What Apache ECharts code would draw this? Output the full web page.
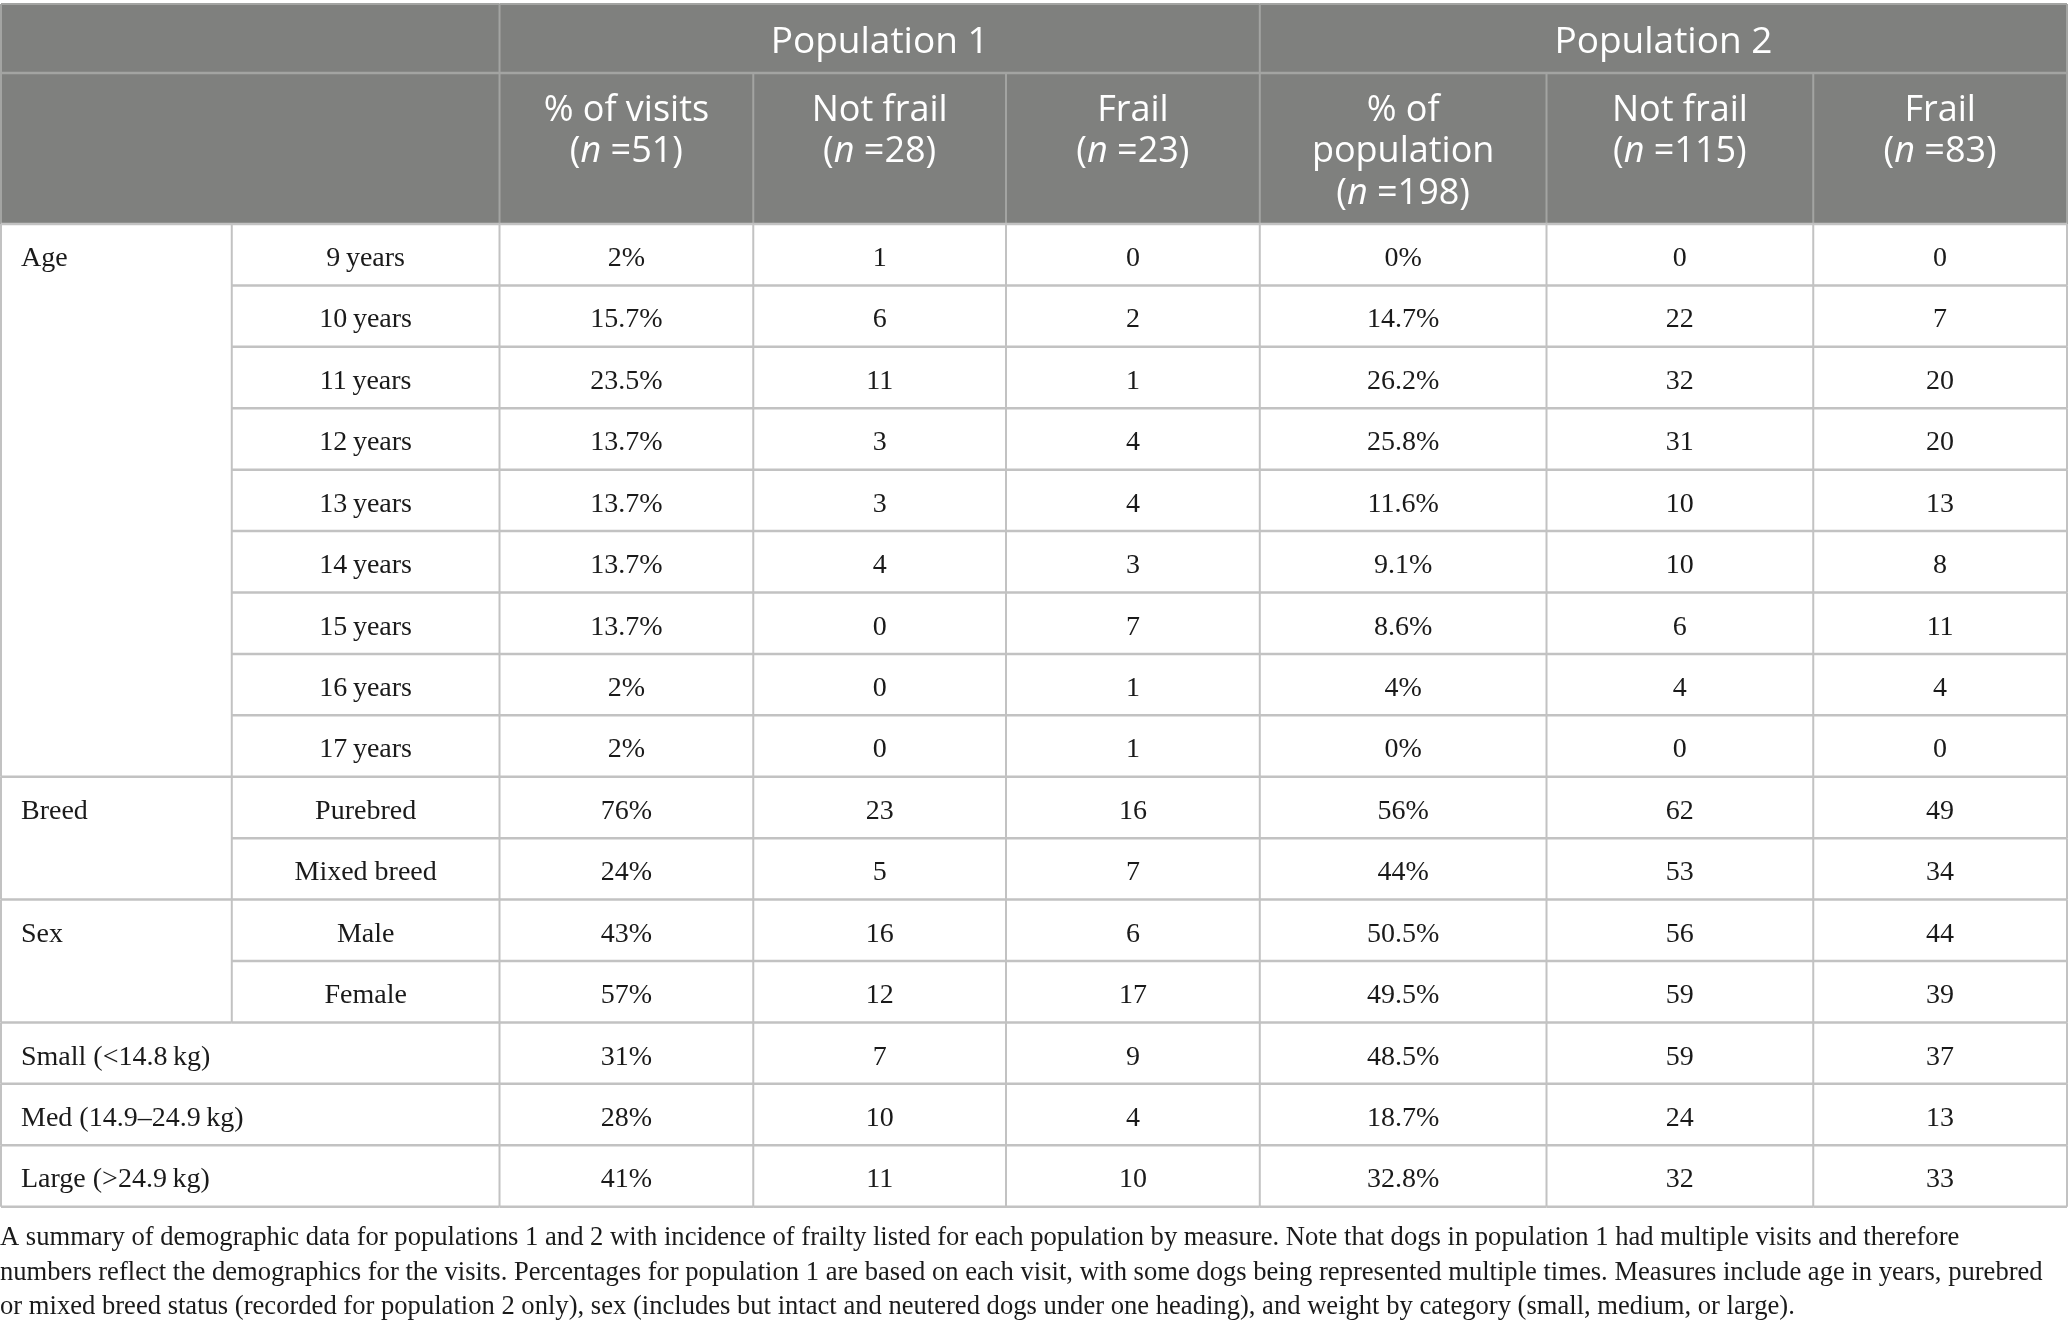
<!DOCTYPE html>
<html><head><meta charset="utf-8">
<script src="https://cdn.jsdelivr.net/npm/echarts@6/dist/echarts.min.js"></script>
<style>html,body{margin:0;padding:0;background:#fff}#c{width:2068px;height:1334px}</style>
</head><body><div id="c"></div>
<script>
// ---------- data ----------
const populations = ['Population 1', 'Population 2'];
const columnHeads = [
  '% of visits\n({i|n} =51)', 'Not frail\n({i|n} =28)', 'Frail\n({i|n} =23)',
  '% of\npopulation\n({i|n} =198)', 'Not frail\n({i|n} =115)', 'Frail\n({i|n} =83)'
];
const groupNames = ['Age', 'Breed', 'Sex'];
const groupSizes = [9, 2, 2];
const subLabels = ['9\u2009years', '10\u2009years', '11\u2009years', '12\u2009years', '13\u2009years',
  '14\u2009years', '15\u2009years', '16\u2009years', '17\u2009years',
  'Purebred', 'Mixed breed', 'Male', 'Female'];
const weightLabels = ['Small (<14.8\u2009kg)', 'Med (14.9\u201324.9\u2009kg)', 'Large (>24.9\u2009kg)'];
const pop1Pct = ['2%', '15.7%', '23.5%', '13.7%', '13.7%', '13.7%', '13.7%', '2%', '2%', '76%', '24%', '43%', '57%', '31%', '28%', '41%'];
const pop1NotFrail = [1, 6, 11, 3, 3, 4, 0, 0, 0, 23, 5, 16, 12, 7, 10, 11];
const pop1Frail = [0, 2, 1, 4, 4, 3, 7, 1, 1, 16, 7, 6, 17, 9, 4, 10];
const pop2Pct = ['0%', '14.7%', '26.2%', '25.8%', '11.6%', '9.1%', '8.6%', '4%', '0%', '56%', '44%', '50.5%', '49.5%', '48.5%', '18.7%', '32.8%'];
const pop2NotFrail = [0, 22, 32, 31, 10, 10, 6, 4, 0, 62, 53, 56, 59, 59, 24, 32];
const pop2Frail = [0, 7, 20, 20, 13, 8, 11, 4, 0, 49, 34, 44, 39, 37, 13, 33];
const caption = 'A summary of demographic data for populations 1 and 2 with incidence of frailty listed for each population by measure. Note that dogs in population 1 had multiple visits and therefore\n' +
  'numbers reflect the demographics for the visits. Percentages for population 1 are based on each visit, with some dogs being represented multiple times. Measures include age in years, purebred\n' +
  'or mixed breed status (recorded for population 2 only), sex (includes but intact and neutered dogs under one heading), and weight by category (small, medium, or large).';

// ---------- layout (table units) ----------
const colWidths = [231, 268, 254, 253, 254, 287, 267, 254];
const xEdges = [0];
colWidths.forEach(w => xEdges.push(xEdges[xEdges.length - 1] + w));
const headRowUnits = [69 / 61.42, 151 / 61.42];
const bodyStart = headRowUnits[0] + headRowUnits[1];
const nBody = pop1Pct.length;
const yMax = bodyStart + nBody;

const valueCols = [pop1Pct, pop1NotFrail, pop1Frail, pop2Pct, pop2NotFrail, pop2Frail];

const cells = [];
function addCell(c0, c1, y0, y1, kind, text) {
  cells.push({ value: [xEdges[c0], xEdges[c1], y0, y1], kind: kind, text: text });
}
addCell(0, 2, 0, headRowUnits[0], 'h1', '');
addCell(2, 5, 0, headRowUnits[0], 'h1', populations[0]);
addCell(5, 8, 0, headRowUnits[0], 'h1', populations[1]);
addCell(0, 2, headRowUnits[0], bodyStart, 'h2', '');
columnHeads.forEach((t, k) => addCell(2 + k, 3 + k, headRowUnits[0], bodyStart, 'h2', t));
let r = 0;
groupNames.forEach((g, gi) => {
  addCell(0, 1, bodyStart + r, bodyStart + r + groupSizes[gi], 'group', g);
  for (let j = 0; j < groupSizes[gi]; j++) {
    addCell(1, 2, bodyStart + r, bodyStart + r + 1, 'sub', subLabels[r]);
    r++;
  }
});
weightLabels.forEach(w => {
  addCell(0, 2, bodyStart + r, bodyStart + r + 1, 'group1', w);
  r++;
});
for (let i = 0; i < nBody; i++) {
  valueCols.forEach((col, k) => addCell(2 + k, 3 + k, bodyStart + i, bodyStart + i + 1, 'val', String(col[i])));
}

const SERIF = '"Liberation Serif", "DejaVu Serif", serif';
const SANS = '"Open Sans", "Noto Sans", sans-serif';
const HEAD_BG = '#7f807e';
const HEAD_LINE = '#a3a4a2';
const BODY_LINE = '#c2c2c2';
const BODY_FONT = 28;
const TEXT_DY = 4;

function renderItem(params, api) {
  const cell = cells[params.dataIndex];
  const p0 = api.coord([api.value(0), api.value(2)]);
  const p1 = api.coord([api.value(1), api.value(3)]);
  const x0 = p0[0], y0 = p0[1], x1 = p1[0], y1 = p1[1];
  const isHead = cell.kind === 'h1' || cell.kind === 'h2';
  const children = [];
  children.push({ type: 'rect', shape: { x: x0, y: y0, width: x1 - x0, height: y1 - y0 },
    style: { fill: isHead ? HEAD_BG : '#ffffff' } });
  const lc = isHead ? HEAD_LINE : BODY_LINE;
  const bottomColor = cell.kind === 'h2' ? BODY_LINE : lc;
  children.push({ type: 'line', shape: { x1: x0, y1: y1, x2: x1, y2: y1 }, style: { stroke: bottomColor, lineWidth: 2.5 }, z2: 5 });
  children.push({ type: 'line', shape: { x1: x1, y1: y0, x2: x1, y2: y1 }, style: { stroke: lc, lineWidth: 2 }, z2: 4 });
  if (api.value(0) === 0) {
    children.push({ type: 'line', shape: { x1: x0, y1: y0, x2: x0, y2: y1 }, style: { stroke: lc, lineWidth: 2 }, z2: 4 });
  }
  if (api.value(2) === 0) {
    children.push({ type: 'line', shape: { x1: x0, y1: y0, x2: x1, y2: y0 }, style: { stroke: HEAD_LINE, lineWidth: 2 }, z2: 4 });
  }
  if (cell.text) {
    let ts;
    const rowH = (y1 - y0) / (api.value(3) - api.value(2));
    if (cell.kind === 'h1') {
      ts = { x: (x0 + x1) / 2, y: (y0 + y1) / 2 + 4, align: 'center', verticalAlign: 'middle',
        fontFamily: SANS, fontSize: 37, fill: '#ffffff' };
    } else if (cell.kind === 'h2') {
      ts = { x: (x0 + x1) / 2, y: y0 + 17, align: 'center', verticalAlign: 'top',
        fontFamily: SANS, fontSize: 36, lineHeight: 41.5, fill: '#ffffff',
        rich: { i: { fontStyle: 'italic', fontFamily: SANS, fontSize: 36, lineHeight: 41.5, fill: '#ffffff' } } };
    } else if (cell.kind === 'group') {
      ts = { x: x0 + 20, y: y0 + rowH / 2 + TEXT_DY, align: 'left', verticalAlign: 'middle',
        fontFamily: SERIF, fontSize: BODY_FONT, fill: '#1a1a1a' };
    } else if (cell.kind === 'group1') {
      ts = { x: x0 + 20, y: (y0 + y1) / 2 + TEXT_DY, align: 'left', verticalAlign: 'middle',
        fontFamily: SERIF, fontSize: BODY_FONT, fill: '#1a1a1a' };
    } else {
      ts = { x: (x0 + x1) / 2, y: (y0 + y1) / 2 + TEXT_DY, align: 'center', verticalAlign: 'middle',
        fontFamily: SERIF, fontSize: BODY_FONT, fill: '#1a1a1a' };
    }
    ts.text = cell.text;
    children.push({ type: 'text', style: ts, z2: 10 });
  }
  return { type: 'group', children: children };
}

const chart = echarts.init(document.getElementById('c'), null, { renderer: 'canvas' });
chart.setOption({
  animation: false,
  backgroundColor: '#ffffff',
  grid: { left: 1, right: 1, top: 4, height: 1202.7, containLabel: false },
  xAxis: { type: 'value', min: 0, max: xEdges[8], show: false },
  yAxis: { type: 'value', min: 0, max: yMax, inverse: true, show: false },
  series: [{
    type: 'custom',
    renderItem: renderItem,
    encode: { x: [0, 1], y: [2, 3] },
    data: cells.map(c => ({ value: c.value })),
    silent: true
  }],
  graphic: [{
    type: 'text', left: 0, top: 1221,
    style: { text: caption, fontFamily: SERIF, fontSize: 26.6, lineHeight: 34.5, fill: '#1a1a1a' }
  }]
});
</script></body></html>
